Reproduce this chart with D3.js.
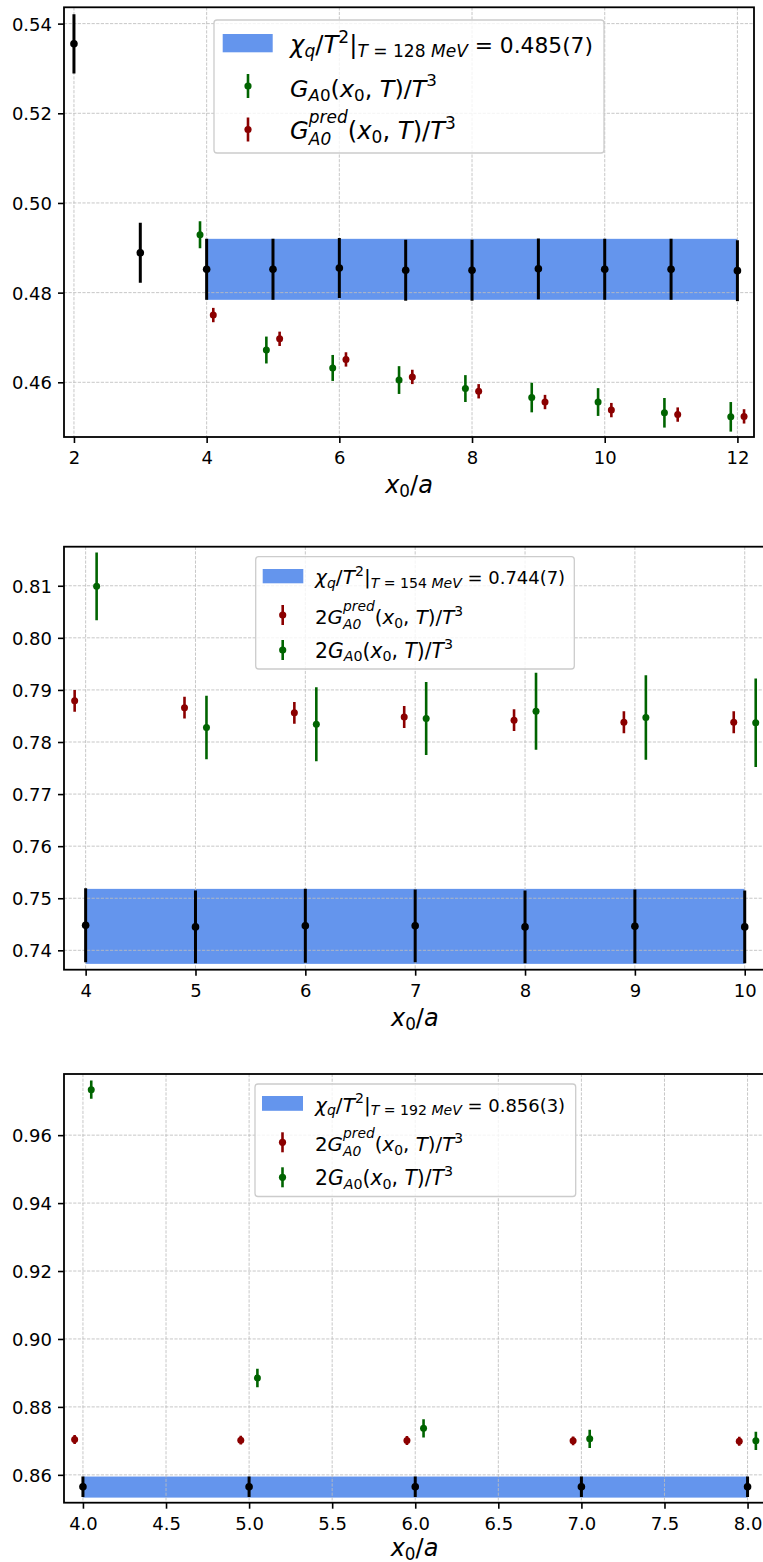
<!DOCTYPE html>
<html><head><meta charset="utf-8">
<script src="https://cdn.jsdelivr.net/npm/d3@7"></script>
<style>
body{margin:0;background:#fff}
svg{display:block}
text{font-family:"DejaVu Sans",sans-serif;fill:#000}
</style>
</head><body>
<svg id="chart" width="763" height="1562"></svg>
<script>
// ---------------- Panel 1 : T = 128 MeV ----------------
const p1XTicks = [2, 4, 6, 8, 10, 12];
const p1YTicks = [0.46, 0.48, 0.50, 0.52, 0.54];
const p1BlackX = [2, 3, 4, 5, 6, 7, 8, 9, 10, 11, 12];
const p1Black = [0.5355, 0.4889, 0.4852, 0.4852, 0.4855, 0.4850, 0.4850, 0.4853, 0.4852, 0.4852, 0.4849];
const p1BlackErr = [0.0066, 0.0067, 0.0068, 0.0068, 0.0067, 0.0068, 0.0068, 0.0068, 0.0068, 0.0068, 0.0068];
const p1GreenX = [3.9, 4.9, 5.9, 6.9, 7.9, 8.9, 9.9, 10.9, 11.9];
const p1Green = [0.4929, 0.4672, 0.4632, 0.4605, 0.4586, 0.4566, 0.4556, 0.4532, 0.4523];
const p1GreenErr = [0.0030, 0.0030, 0.0029, 0.0031, 0.0030, 0.0033, 0.0031, 0.0033, 0.0033];
const p1RedX = [4.1, 5.1, 6.1, 7.1, 8.1, 9.1, 10.1, 11.1, 12.1];
const p1Red = [0.4750, 0.4697, 0.4651, 0.4612, 0.4580, 0.4556, 0.4538, 0.4528, 0.4524];
const p1RedErr = [0.0016, 0.0016, 0.0016, 0.0016, 0.0016, 0.0016, 0.0016, 0.0016, 0.0016];
const p1BandX = [4, 12];
const p1Band = [0.4852, 0.0068];   // central value, half-width
const p1Temp = "128";
const p1Value = "0.485(7)";

// ---------------- Panel 2 : T = 154 MeV ----------------
const p2XTicks = [4, 5, 6, 7, 8, 9, 10];
const p2YTicks = [0.74, 0.75, 0.76, 0.77, 0.78, 0.79, 0.80, 0.81];
const p2BlackX = [4, 5, 6, 7, 8, 9, 10];
const p2Black = [0.7448, 0.7445, 0.7447, 0.7447, 0.7445, 0.7446, 0.7445];
const p2BlackErr = [0.0071, 0.0070, 0.0071, 0.0070, 0.0070, 0.0071, 0.0070];
const p2RedX = [3.9, 4.9, 5.9, 6.9, 7.9, 8.9, 9.9];
const p2Red = [0.7879, 0.7866, 0.7856, 0.7848, 0.7842, 0.7838, 0.7838];
const p2RedErr = [0.0021, 0.0021, 0.0021, 0.0021, 0.0021, 0.0021, 0.0021];
const p2GreenX = [4.1, 5.1, 6.1, 7.1, 8.1, 9.1, 10.1];
const p2Green = [0.8099, 0.7828, 0.7834, 0.7845, 0.7859, 0.7847, 0.7837];
const p2GreenErr = [0.0065, 0.0061, 0.0071, 0.0070, 0.0074, 0.0081, 0.0085];
const p2BandX = [4, 10];
const p2Band = [0.7446, 0.0072];
const p2Temp = "154";
const p2Value = "0.744(7)";

// ---------------- Panel 3 : T = 192 MeV ----------------
const p3XTicks = [4.0, 4.5, 5.0, 5.5, 6.0, 6.5, 7.0, 7.5, 8.0];
const p3YTicks = [0.86, 0.88, 0.90, 0.92, 0.94, 0.96];
const p3BlackX = [4, 5, 6, 7, 8];
const p3Black = [0.8565, 0.8565, 0.8565, 0.8565, 0.8565];
const p3BlackErr = [0.0030, 0.0030, 0.0030, 0.0030, 0.0030];
const p3RedX = [3.95, 4.95, 5.95, 6.95, 7.95];
const p3Red = [0.8704, 0.8702, 0.8701, 0.8700, 0.8699];
const p3RedErr = [0.0013, 0.0013, 0.0013, 0.0013, 0.0013];
const p3GreenX = [4.05, 5.05, 6.05, 7.05, 8.05];
const p3Green = [0.9734, 0.8885, 0.8737, 0.8706, 0.8700];
const p3GreenErr = [0.0027, 0.0027, 0.0027, 0.0027, 0.0027];
const p3BandX = [4, 8];
const p3Band = [0.8564, 0.0031];
const p3Temp = "192";
const p3Value = "0.856(3)";

// ---------------- styles ----------------
const BAND = "#6495ED", GREEN = "#006400", RED = "#8B0000", BLACK = "#000000";
const MATH_SCALE = 1.12;   // math glyphs render slightly larger than plain legend text

const svg = d3.select("#chart");

// math text helper: parts = [text, flags]; flags: i=italic, b=subscript, p=superscript,
// s=stacked superscript, r=plain (non-math) text size
function buildMath(parent, parts, size, mscale) {
  const ms = size * mscale;
  const t = parent.append("text")
    .attr("font-size", size)
    .attr("xml:space", "preserve")
    .style("white-space", "pre");
  let cx = 0, stack = null;
  parts.forEach(([txt, f = ""]) => {
    const sub = f.includes("b"), sup = f.includes("p"), st = f.includes("s");
    const base = f.includes("r") ? size : ms;
    const fs = (sub || sup) ? base * 0.7 : base;
    let dy = 0;
    if (sub) dy = (st || stack) ? base * 0.26 : base * 0.18;
    if (sup) dy = st ? -base * 0.66 : -base * 0.42;
    const px = stack ? stack.x : cx;
    const s = t.append("tspan")
      .attr("x", px).attr("y", dy)
      .attr("font-size", fs)
      .attr("font-style", f.includes("i") ? "italic" : "normal")
      .text(txt);
    const w = s.node().getComputedTextLength();
    if (sup && st) { stack = { x: cx, w }; }
    else if (stack) { cx = stack.x + Math.max(stack.w, w); stack = null; }
    else cx += w;
  });
  return { t, w: cx };
}
function mathText(parent, x, y, parts, size, anchor, mscale, xEnd) {
  let r = buildMath(parent, parts, size, mscale);
  if (xEnd) {   // fit the line so that it ends where the reference line ends
    const k = (xEnd - x) / r.w;
    r.t.remove();
    r = buildMath(parent, parts, size * k, mscale);
  }
  const x0 = anchor === "middle" ? x - r.w / 2 : x;
  r.t.attr("transform", `translate(${x0},${y})`);
  return r.t;
}

function errSeries(g, x, y, xs, vals, errs, color, r, lw) {
  const d = xs.map((v, i) => ({ x: v, y: vals[i], e: errs[i] }));
  const grp = g.append("g");
  grp.selectAll("line").data(d).join("line")
    .attr("x1", p => x(p.x)).attr("x2", p => x(p.x))
    .attr("y1", p => y(p.y - p.e)).attr("y2", p => y(p.y + p.e))
    .attr("stroke", color).attr("stroke-width", lw);
  grp.selectAll("circle").data(d).join("circle")
    .attr("cx", p => x(p.x)).attr("cy", p => y(p.y)).attr("r", r)
    .attr("fill", color);
}

function panel(cfg) {
  const { L, R, T, B, xd, yd } = cfg;
  const x = d3.scaleLinear().domain(xd).range([L, R]);
  const y = d3.scaleLinear().domain(yd).range([B, T]);
  const g = svg.append("g");
  const clipId = "clip" + cfg.id;
  g.append("clipPath").attr("id", clipId).append("rect")
    .attr("x", L).attr("y", T).attr("width", R - L).attr("height", B - T);

  const plot = g.append("g").attr("clip-path", `url(#${clipId})`);
  // band
  plot.append("rect")
    .attr("x", x(cfg.bandX[0])).attr("width", x(cfg.bandX[1]) - x(cfg.bandX[0]))
    .attr("y", y(cfg.band[0] + cfg.band[1]))
    .attr("height", y(cfg.band[0] - cfg.band[1]) - y(cfg.band[0] + cfg.band[1]))
    .attr("fill", BAND);
  // grid
  const grid = plot.append("g").attr("stroke", "#bdbdbd").attr("stroke-width", 0.85)
    .attr("stroke-dasharray", "3.2,1.4");
  cfg.xTicks.forEach(v => grid.append("line").attr("x1", x(v)).attr("x2", x(v)).attr("y1", T).attr("y2", B));
  cfg.yTicks.forEach(v => grid.append("line").attr("y1", y(v)).attr("y2", y(v)).attr("x1", L).attr("x2", R));
  // series
  cfg.series.forEach(s => errSeries(plot, x, y, s.xs, s.v, s.e, s.c, s.r, s.lw));

  // axes
  const xAxis = d3.axisBottom(x).tickValues(cfg.xTicks).tickFormat(d3.format(cfg.xFmt))
    .tickSizeInner(6).tickSizeOuter(0).tickPadding(5);
  const yAxis = d3.axisLeft(y).tickValues(cfg.yTicks).tickFormat(d3.format(".2f"))
    .tickSizeInner(6).tickSizeOuter(0).tickPadding(5);
  const gx = g.append("g").attr("transform", `translate(0,${B})`).call(xAxis);
  const gy = g.append("g").attr("transform", `translate(${L},0)`).call(yAxis);
  [gx, gy].forEach(a => {
    a.select(".domain").remove();
    a.selectAll(".tick line").attr("stroke", "#000").attr("stroke-width", 1.6);
    a.selectAll(".tick text").attr("font-size", 18).attr("font-family", "DejaVu Sans").attr("fill", "#000");
  });
  gx.selectAll(".tick text").attr("dy", null).attr("y", 27.3);
  gy.selectAll(".tick text").attr("dy", null).attr("y", 6.5).attr("x", -12);
  // frame
  g.append("rect").attr("x", L).attr("y", T).attr("width", R - L).attr("height", B - T)
    .attr("fill", "none").attr("stroke", "#000").attr("stroke-width", 1.8);

  // x label
  mathText(g, (L + R) / 2, B + cfg.labelDy, [["x", "i"], ["0", "b"], ["/"], ["a", "i"]], 24, "middle", 1);

  // legend
  const lg = cfg.legend;
  g.append("rect").attr("x", lg.box[0]).attr("y", lg.box[1])
    .attr("width", lg.box[2] - lg.box[0]).attr("height", lg.box[3] - lg.box[1])
    .attr("rx", 3).attr("fill", "#fff").attr("fill-opacity", 0.8)
    .attr("stroke", "#cccccc").attr("stroke-width", 1.3);
  g.append("rect").attr("x", lg.patch[0]).attr("y", lg.patch[1])
    .attr("width", lg.patch[2] - lg.patch[0]).attr("height", lg.patch[3] - lg.patch[1])
    .attr("fill", BAND);
  lg.handles.forEach(h => {
    g.append("line").attr("x1", lg.hx).attr("x2", lg.hx)
      .attr("y1", h.cy - lg.hl).attr("y2", h.cy + lg.hl)
      .attr("stroke", h.c).attr("stroke-width", 2.6);
    g.append("circle").attr("cx", lg.hx).attr("cy", h.cy).attr("r", 3.6).attr("fill", h.c);
  });
  lg.texts.forEach(tx => mathText(g, lg.tx, tx.y, tx.parts, lg.fs, "start", MATH_SCALE, tx.end));
}

function chiParts(temp, val) {
  return [["χ", "i"], ["q", "ib"], ["/"], ["T", "i"], ["2", "p"], ["|"],
          ["T", "ib"], [" = ", "b"], [temp, "b"], [" ", "b"], ["MeV", "ib"], [" = " + val, "r"]];
}
const gParts = [["G", "i"], ["A", "ib"], ["0", "b"], ["("], ["x", "i"], ["0", "b"], [", "], ["T", "i"], [")/"], ["T", "i"], ["3", "p"]];
const gPredParts = [["G", "i"], ["pred", "ips"], ["A0", "ib"], ["("], ["x", "i"], ["0", "b"], [", "], ["T", "i"], [")/"], ["T", "i"], ["3", "p"]];
const g2Parts = [["2"]].concat(gParts);
const g2PredParts = [["2"]].concat(gPredParts);

panel({
  id: 1, L: 64, R: 754, T: 7.3, B: 437, xd: [1.85, 12.25], yd: [0.4478, 0.54364], labelDy: 56,
  xTicks: p1XTicks, yTicks: p1YTicks, xFmt: "d",
  bandX: p1BandX, band: p1Band,
  series: [
    { xs: p1GreenX, v: p1Green, e: p1GreenErr, c: GREEN, r: 3.5, lw: 2.6 },
    { xs: p1RedX, v: p1Red, e: p1RedErr, c: RED, r: 3.5, lw: 2.6 },
    { xs: p1BlackX, v: p1Black, e: p1BlackErr, c: BLACK, r: 3.8, lw: 3 }
  ],
  legend: {
    box: [214, 20, 604, 153], patch: [222.7, 34, 272.7, 52.3], fs: 21, tx: 290,
    hx: 248, hl: 12,
    handles: [{ cy: 86, c: GREEN }, { cy: 129.5, c: RED }],
    texts: [{ y: 53, parts: chiParts(p1Temp, p1Value), end: 593 },
            { y: 96.5, parts: gParts, end: 437 },
            { y: 139, parts: gPredParts, end: 456 }]
  }
});

panel({
  id: 2, L: 64, R: 765.6, T: 546.7, B: 969.7, xd: [3.803, 10.19], yd: [0.73628, 0.8175], labelDy: 56,
  xTicks: p2XTicks, yTicks: p2YTicks, xFmt: "d",
  bandX: p2BandX, band: p2Band,
  series: [
    { xs: p2RedX, v: p2Red, e: p2RedErr, c: RED, r: 3.5, lw: 2.6 },
    { xs: p2GreenX, v: p2Green, e: p2GreenErr, c: GREEN, r: 3.5, lw: 2.6 },
    { xs: p2BlackX, v: p2Black, e: p2BlackErr, c: BLACK, r: 3.8, lw: 3 }
  ],
  legend: {
    box: [255.7, 556.7, 574.3, 669], patch: [262.7, 569, 303.3, 583.3], fs: 17.4, tx: 315,
    hx: 282.7, hl: 10,
    handles: [{ cy: 615, c: RED }, { cy: 650, c: GREEN }],
    texts: [{ y: 584.3, parts: chiParts(p2Temp, p2Value), end: 565 },
            { y: 624, parts: g2PredParts, end: 463 },
            { y: 657.7, parts: g2Parts, end: 453 }]
  }
});

panel({
  id: 3, L: 64, R: 765, T: 1074, B: 1502.7, xd: [3.886, 8.105], yd: [0.8518, 0.978], labelDy: 53,
  xTicks: p3XTicks, yTicks: p3YTicks, xFmt: ".1f",
  bandX: p3BandX, band: p3Band,
  series: [
    { xs: p3RedX, v: p3Red, e: p3RedErr, c: RED, r: 3.5, lw: 2.6 },
    { xs: p3GreenX, v: p3Green, e: p3GreenErr, c: GREEN, r: 3.5, lw: 2.6 },
    { xs: p3BlackX, v: p3Black, e: p3BlackErr, c: BLACK, r: 3.8, lw: 3 }
  ],
  legend: {
    box: [255, 1084, 575.7, 1196.5], patch: [262, 1096, 303, 1110.8], fs: 17.4, tx: 315,
    hx: 282.5, hl: 10,
    handles: [{ cy: 1142.3, c: RED }, { cy: 1177.3, c: GREEN }],
    texts: [{ y: 1111.6, parts: chiParts(p3Temp, p3Value), end: 565 },
            { y: 1151.3, parts: g2PredParts, end: 463 },
            { y: 1185, parts: g2Parts, end: 453 }]
  }
});
</script>
</body></html>
